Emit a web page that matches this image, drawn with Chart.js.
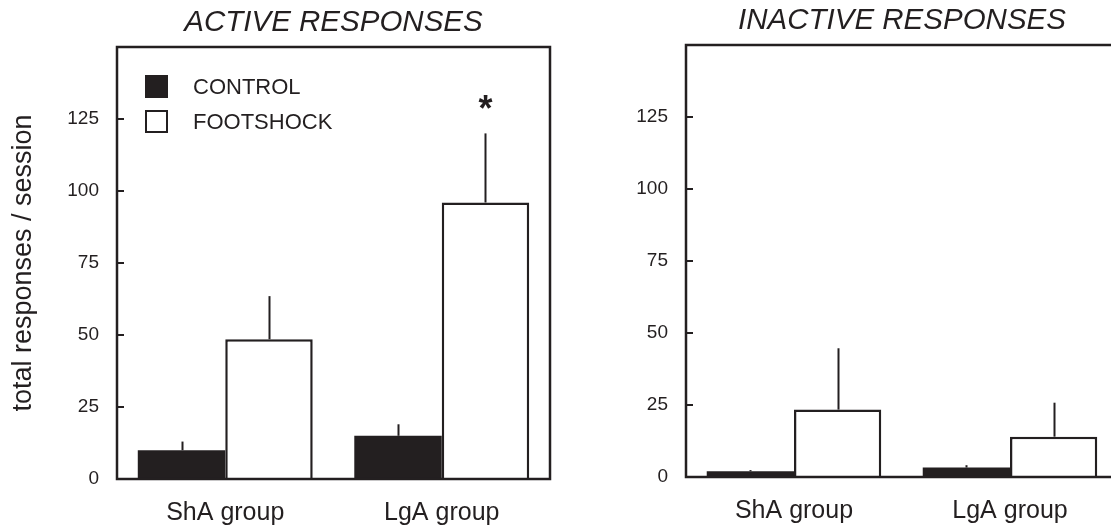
<!DOCTYPE html>
<html>
<head>
<meta charset="utf-8">
<script src="https://cdn.jsdelivr.net/npm/chart.js@4.4.1/dist/chart.umd.min.js"></script>
<style>
  html, body { margin: 0; padding: 0; background: #fff; overflow: hidden; }
  #wrap { position: relative; width: 1111px; height: 525px; overflow: hidden; }
  canvas { position: absolute; }
  #left { left: 0; top: 0; }
  #right { left: 570px; top: -2px; }
</style>
</head>
<body>
<div id="wrap">
  <canvas id="left" width="562" height="525"></canvas>
  <canvas id="right" width="560" height="525"></canvas>
</div>
<script>
// groups on the x axis
const groups = [ "ShA group", "LgA group" ];
const seriesNames = [ "CONTROL", "FOOTSHOCK" ];

// active lever: means and SEM (upper error bar only)
const activeControl = [ 10, 15 ];
const activeControlSem = [ 3, 4 ];
const activeFootshock = [ 48.5, 96 ];
const activeFootshockSem = [ 15, 24 ];

// inactive lever
const inactiveControl = [ 2, 3.3 ];
const inactiveControlSem = [ 0.4, 0.8 ];
const inactiveFootshock = [ 23.4, 14 ];
const inactiveFootshockSem = [ 21.3, 11.8 ];

// significance marks above the footshock bars (active panel)
const activeFootshockMarks = [ "", "*" ];
const markValue = 130;

const yTicks = [ 0, 25, 50, 75, 100, 125 ];
const yMax = 150;

const INK = "#231f20";
const FONT = "'Liberation Sans', Arial, Helvetica, sans-serif";

// frame, inward ticks, error bars, title, legend, marks
const panelPlugin = {
	id: "panel",
	afterDatasetsDraw( chart, args, opts ) {
		const ctx = chart.ctx;
		const area = chart.chartArea;
		const y = chart.scales.y;

		ctx.save();
		ctx.strokeStyle = INK;
		ctx.lineWidth = 2;
		chart.data.datasets.forEach( ( ds, di ) => {
			const meta = chart.getDatasetMeta( di );
			meta.data.forEach( ( bar, i ) => {
				const top = y.getPixelForValue( ds.data[ i ] + ds.sem[ i ] );
				ctx.beginPath();
				ctx.moveTo( Math.round( bar.x ) + 0.5, top );
				ctx.lineTo( Math.round( bar.x ) + 0.5, bar.y );
				ctx.stroke();
			} );
		} );

		// box round the plot
		ctx.lineWidth = 2.5;
		ctx.strokeRect( area.left, area.top, area.right - area.left, area.bottom - area.top );

		// tick marks pointing inward
		ctx.lineWidth = 2;
		yTicks.forEach( v => {
			const py = Math.round( y.getPixelForValue( v ) );
			ctx.beginPath();
			ctx.moveTo( area.left, py );
			ctx.lineTo( area.left + 7, py );
			ctx.stroke();
		} );

		// panel title
		ctx.fillStyle = INK;
		ctx.font = "italic 29.5px " + FONT;
		ctx.textAlign = "center";
		ctx.textBaseline = "middle";
		ctx.fillText( opts.title, ( area.left + area.right ) / 2, 23 );

		// legend inside the frame
		if ( opts.legend ) {
			ctx.font = "22px " + FONT;
			ctx.textAlign = "left";
			chart.data.datasets.forEach( ( ds, di ) => {
				const bx = area.left + 28;
				const by = area.top + 28 + di * 35;
				ctx.fillStyle = ds.backgroundColor;
				ctx.fillRect( bx, by, 23, 23 );
				ctx.strokeStyle = INK;
				ctx.lineWidth = 2;
				ctx.strokeRect( bx + 1, by + 1, 21, 21 );
				ctx.fillStyle = INK;
				ctx.fillText( ds.label, bx + 48, by + 13 );
			} );
		}

		// significance marks
		if ( opts.marks ) {
			const meta = chart.getDatasetMeta( 1 );
			ctx.font = "bold 36px " + FONT;
			ctx.textAlign = "center";
			ctx.textBaseline = "middle";
			opts.marks.forEach( ( m, i ) => {
				if ( m ) ctx.fillText( m, meta.data[ i ].x, y.getPixelForValue( markValue ) + 6 );
			} );
		}
		ctx.restore();
	}
};

function makePanel( canvas, control, controlSem, footshock, footshockSem, opts ) {
	return new Chart( canvas, {
		  type: "bar"
		, data: {
			  labels: groups
			, datasets: [
				{
					  label: seriesNames[ 0 ]
					, data: control
					, sem: controlSem
					, backgroundColor: INK
					, borderColor: INK
					, borderWidth: 0
				}
				, {
					  label: seriesNames[ 1 ]
					, data: footshock
					, sem: footshockSem
					, backgroundColor: "#ffffff"
					, borderColor: INK
					, borderWidth: 2.5
				}
			]
		}
		, options: {
			  responsive: false
			, animation: false
			, categoryPercentage: 0.808
			, barPercentage: 1
			, layout: { padding: { top: 47, right: 12, left: 0, bottom: 0 } }
			, plugins: {
				  legend: { display: false }
				, tooltip: { enabled: false }
				, panel: opts
			}
			, scales: {
				x: {
					  grid: { display: false, drawTicks: false }
					, border: { display: false }
					, ticks: { color: INK, padding: 19, font: { family: FONT, size: 25 } }
					, afterFit: s => { s.height = 46; }
				}
				, y: {
					  min: 0
					, max: yMax
					, grid: { display: false, drawTicks: false }
					, border: { display: false }
					, ticks: {
						  stepSize: 25
						, padding: 18
						, color: INK
						, font: { family: FONT, size: 19 }
						, callback: v => yTicks.includes( v ) ? v : ""
					}
					, title: {
						  display: opts.yTitle !== ""
						, text: opts.yTitle
						, color: INK
						, font: { family: FONT, size: 27 }
						, padding: { top: 7, bottom: 0 }
					}
					, afterFit: s => { s.width = opts.axisWidth; }
				}
			}
		}
		, plugins: [ panelPlugin ]
	} );
}

makePanel( document.getElementById( "left" ), activeControl, activeControlSem, activeFootshock, activeFootshockSem, {
	  title: "ACTIVE RESPONSES"
	, legend: true
	, marks: activeFootshockMarks
	, yTitle: "total responses / session"
	, axisWidth: 117
} );

makePanel( document.getElementById( "right" ), inactiveControl, inactiveControlSem, inactiveFootshock, inactiveFootshockSem, {
	  title: "INACTIVE RESPONSES"
	, legend: false
	, marks: null
	, yTitle: ""
	, axisWidth: 116
} );
</script>
</body>
</html>
